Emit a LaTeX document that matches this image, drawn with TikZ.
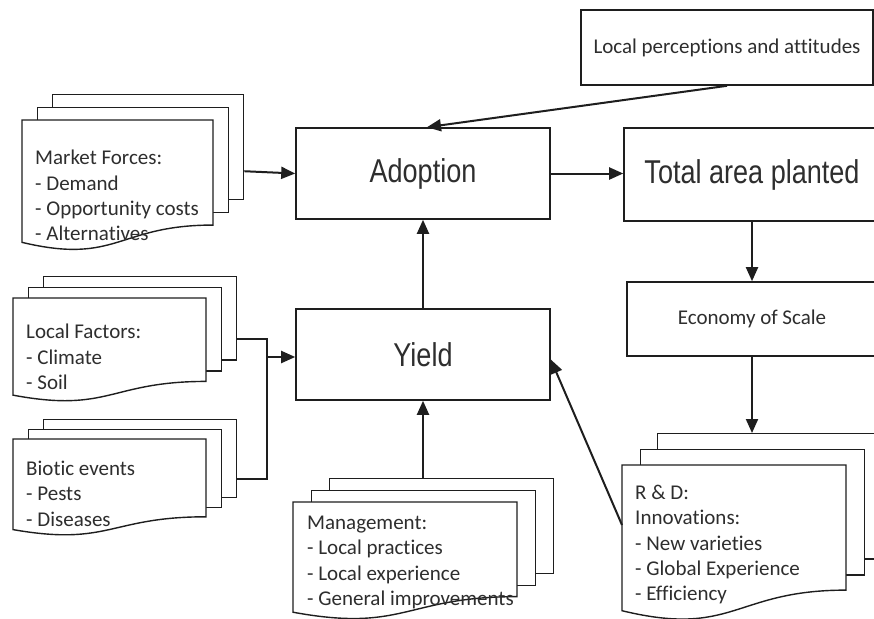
\documentclass[tikz,border=0pt]{standalone}
\usepackage{fontspec}
\setmainfont{Carlito}[Ligatures={NoCommon}]
\newfontfamily\bigfont[FakeStretch=0.82]{Liberation Sans}
\usetikzlibrary{arrows.meta}
\definecolor{ln}{HTML}{1E1E1E}
\definecolor{tx}{HTML}{2E2E2E}
\tikzset{
 box/.style={draw=ln, line width=1.6pt, fill=white, inner sep=0pt, text=tx},
 bigbox/.style={box, font=\bigfont\fontsize{33}{36}\selectfont},
 smallbox/.style={box, font=\fontsize{21}{25}\selectfont},
 page/.style={draw=ln, line width=1.4pt, fill=white, inner sep=0pt, anchor=north west},
 pagetext/.style={inner sep=0pt, anchor=north west, align=left, text=tx, font=\fontsize{21}{25.3}\selectfont},
 conn/.style={draw=ln, line width=2pt},
 arr/.style={conn, -{Triangle[length=14pt,width=12pt]}},
}
% name, x, y, w, h, dx, dy
\newcommand{\mdoc}[7]{%
  \pgfmathsetmacro{\mdh}{0.802*#5}%
  \node[page, minimum width=#4pt, minimum height=\mdh pt] (#1C) at (#2+2*#6, #3-2*#7) {};
  \node[page, minimum width=#4pt, minimum height=\mdh pt] (#1B) at (#2+#6, #3-#7) {};
  \filldraw[draw=ln, line width=1.4pt, fill=white] (#2,#3) -- (#2+#4,#3) -- (#2+#4,#3+\mdh)
    .. controls (#2+0.5*#4,#3+\mdh) and (#2+0.5*#4,#3+1.108*#5) .. (#2,#3+0.934*#5) -- cycle;
}
\begin{document}
\begin{tikzpicture}[x=1pt,y=-1pt]
\useasboundingbox (0,0) rectangle (874,618);
\clip (0,0) rectangle (874,618);
\fill[white] (0,0) rectangle (874,618);

\node[smallbox, minimum width=292pt, minimum height=75pt] (percep) at (727,47.5) {Local perceptions and attitudes};
\node[bigbox, minimum width=254pt, minimum height=91pt] (adopt) at (423,173.5) {Adoption};
\node[bigbox, minimum width=254pt, minimum height=91pt] (yield) at (423,354.5) {Yield};
\node[bigbox, minimum width=256pt, minimum height=93pt] (total) at (752,174.5) {Total area planted};
\node[smallbox, minimum width=250pt, minimum height=74pt] (econ) at (752,319) {Economy of Scale};

\mdoc{mf}{22}{120}{191}{131}{15}{13}
\node[pagetext] (mfT) at (35,150) {Market Forces:\\- Demand\\- Opportunity costs\\- Alternatives};
\mdoc{lf}{13}{298}{193}{104}{15}{11}
\node[pagetext] (lfT) at (26,324) {Local Factors:\\- Climate\\- Soil};
\mdoc{bio}{13}{439}{193}{97}{15}{10}
\node[pagetext] (bioT) at (26,461) {Biotic events\\- Pests\\- Diseases};
\mdoc{mg}{293}{502}{224}{118}{18}{12}
\node[pagetext] (mgT) at (307,516) {Management:\\- Local practices\\- Local experience\\- General improvements};
\mdoc{rd}{622}{465}{224}{156}{17.5}{16}
\node[pagetext] (rdT) at (635,485) {R \& D:\\Innovations:\\- New varieties\\- Global Experience\\- Efficiency};

\coordinate (jx) at (267,357);
\coordinate (rdL) at (622,525);
\draw[arr] ([yshift=-24pt]mfC.east) -- (adopt.west);
\draw[conn] ([yshift=-21pt]lfC.east) -| (jx);
\draw[conn] ([yshift=-20pt]bioC.east) -| (jx);
\draw[arr] (jx) -- (jx -| yield.west);
\draw[arr] (mgC.north -| yield.south) -- (yield.south);
\draw[arr] (yield.north) -- (adopt.south);
\draw[arr] (adopt.east) -- (adopt.east -| total.west);
\draw[arr] (percep.south) -- ([xshift=4pt]adopt.north);
\draw[arr] (total.south) -- (econ.north);
\draw[arr] (econ.south) -- (econ.south |- rdC.north);
\draw[arr] (rdL) -- ([yshift=-5pt]yield.east);
\end{tikzpicture}
\end{document}
